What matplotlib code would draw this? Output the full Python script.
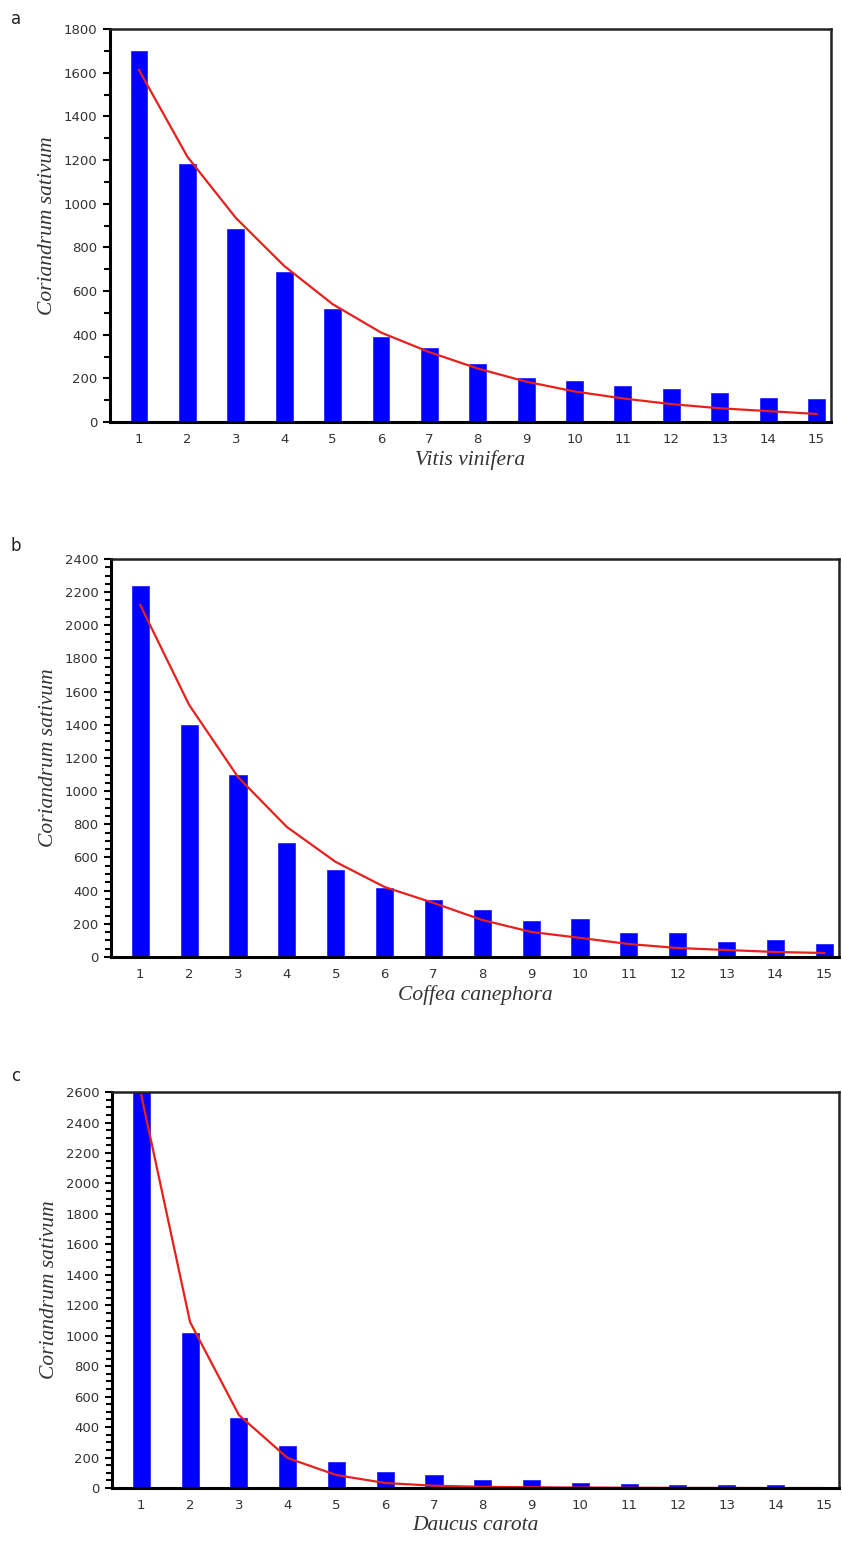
import matplotlib
matplotlib.use("Agg")
import matplotlib.pyplot as plt
from matplotlib.ticker import MultipleLocator

# ranks on the x axis
ranks = list(range(1, 16))

# panel a: Vitis vinifera
vitis_counts = [1700, 1182, 884, 687, 517, 389, 339, 266, 201, 188, 165, 151, 133, 110, 105]
vitis_fit = [1612, 1215, 935, 715, 540, 410, 320, 245, 185, 140, 108, 82, 63, 50, 37]

# panel b: Coffea canephora
coffea_counts = [2240, 1400, 1095, 687, 525, 416, 344, 283, 217, 229, 145, 145, 90, 100, 78]
coffea_fit = [2122, 1520, 1085, 784, 573, 422, 326, 223, 151, 115, 78, 54, 42, 30, 24]

# panel c: Daucus carota
daucus_counts = [2600, 1018, 460, 276, 171, 105, 85, 53, 53, 33, 25, 17, 22, 17, 10]
daucus_fit = [2580, 1090, 480, 197, 85, 33, 15, 8, 5, 3, 2, 1, 1, 0, 0]

panels = [
    ("a", "Vitis vinifera", vitis_counts, vitis_fit, 1800, 100),
    ("b", "Coffea canephora", coffea_counts, coffea_fit, 2400, 50),
    ("c", "Daucus carota", daucus_counts, daucus_fit, 2600, 50),
]

# axes boxes in figure fractions: left, bottom, width, height
boxes = [
    (0.1306, 0.7279, 0.8564, 0.2534),
    (0.1318, 0.3830, 0.8646, 0.2566),
    (0.1330, 0.0406, 0.8634, 0.2553),
]
letter_y = [0.988, 0.648, 0.306]

fig = plt.figure(figsize=(8.42, 15.51), dpi=100)

for (letter, species, counts, fit, ymax, minor), box, ly in zip(panels, boxes, letter_y):
    ax = fig.add_axes(box)
    ax.bar(ranks, counts, width=0.35, color="#0000ff", edgecolor="#2a2aff", linewidth=0.6)
    ax.plot(ranks, fit, color="#e8201c", linewidth=1.6)

    ax.set_xlim(0.4, 15.3)
    ax.set_ylim(0, ymax)
    ax.set_xticks(ranks)
    ax.yaxis.set_major_locator(MultipleLocator(200))
    ax.yaxis.set_minor_locator(MultipleLocator(minor))

    ax.tick_params(axis="x", length=0, pad=8, labelsize=9.5, labelcolor="#333333")
    ax.tick_params(axis="y", which="both", direction="out", length=5, width=1.5,
                   pad=4, labelsize=9.5, labelcolor="#333333")
    ax.tick_params(axis="y", which="minor", length=4)

    for side in ["left", "bottom"]:
        ax.spines[side].set_linewidth(2.2)
    for side in ["top", "right"]:
        ax.spines[side].set_linewidth(1.8)
        ax.spines[side].set_color("#222222")

    ax.set_xlabel(species, fontfamily="Liberation Serif", fontstyle="italic",
                  fontsize=15.5, color="#333333", labelpad=3)
    ax.set_ylabel("Coriandrum sativum", fontfamily="Liberation Serif", fontstyle="italic",
                  fontsize=15.5, color="#333333", labelpad=5)

    fig.text(0.013, ly, letter, fontsize=12, color="#222222", ha="left", va="center")

fig.savefig("out.png", dpi=100)
